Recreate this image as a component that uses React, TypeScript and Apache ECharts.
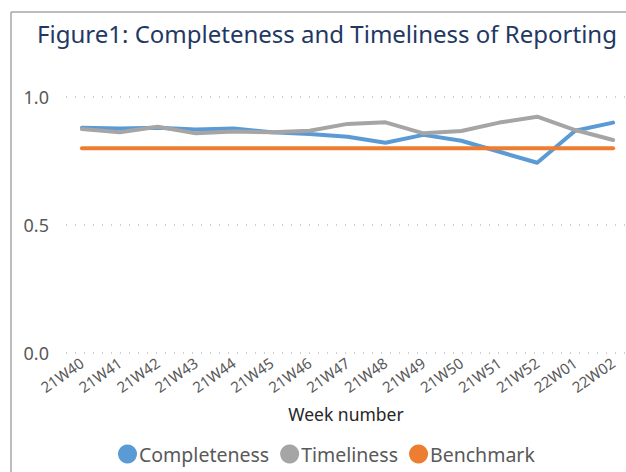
import React, { useEffect, useRef } from "react";
import * as echarts from "echarts";

const weeks = ["21W40","21W41","21W42","21W43","21W44","21W45","21W46","21W47","21W48","21W49","21W50","21W51","21W52","22W01","22W02"];
const completeness = [0.88,0.877,0.88,0.873,0.877,0.862,0.855,0.845,0.821,0.852,0.829,0.786,0.743,0.868,0.9];
const timeliness = [0.875,0.862,0.884,0.858,0.865,0.862,0.868,0.895,0.901,0.858,0.867,0.9,0.923,0.871,0.832];
const benchmark = [0.8,0.8,0.8,0.8,0.8,0.8,0.8,0.8,0.8,0.8,0.8,0.8,0.8,0.8,0.8];
const yTicks = [0, 0.5, 1.0];

const FONT = "'Noto Sans', sans-serif";

export default function App() {
  const ref = useRef<HTMLDivElement>(null);
  useEffect(() => {
    if (!ref.current) return;
    const chart = echarts.init(ref.current, null, { renderer: "svg" });
    const pairs = (arr: number[]) => arr.map((v, i) => [i, v]);
    chart.setOption({
      animation: false,
      backgroundColor: "#ffffff",
      title: {
        text: "Figure1: Completeness and Timeliness of Reporting",
        left: 322,
        top: 16,
        textAlign: "center",
        textStyle: { fontFamily: FONT, fontSize: 24, fontWeight: "normal", color: "#1F3864" },
      },
      legend: {
        top: 439,
        left: 113,
        orient: "horizontal",
        itemGap: 11,
        itemWidth: 19,
        itemHeight: 19,
        icon: "circle",
        textStyle: { fontFamily: FONT, fontSize: 19.5, color: "#595959", padding: [0, 0, 0, -3] },
        data: ["Completeness", "Timeliness", "Benchmark"],
      },
      grid: { left: 66, right: 0, top: 97, bottom: 119, containLabel: false },
      xAxis: {
        type: "value",
        min: -0.42,
        max: 14.34,
        name: "Week number",
        nameLocation: "middle",
        nameGap: 52,
        nameTextStyle: { fontFamily: FONT, fontSize: 17.5, color: "#262626" },
        axisLine: { show: false },
        axisTick: { show: false },
        splitLine: { show: false },
        axisLabel: {
          customValues: weeks.map((_, i) => i),
          formatter: (v: number) => weeks[Math.round(v)] ?? "",
          rotate: 35,
          fontFamily: FONT,
          fontSize: 15,
          color: "#595959",
          margin: 8,
        },
      },
      yAxis: {
        type: "value",
        min: 0,
        max: 1,
        interval: 0.5,
        axisLine: { show: false },
        axisTick: { show: false },
        axisLabel: {
          customValues: yTicks,
          formatter: (v: number) => v.toFixed(1),
          fontFamily: FONT,
          fontSize: 18,
          color: "#595959",
          margin: 17,
        },
        splitLine: { show: true, lineStyle: { color: "#BFBFBF", type: [1, 8], width: 1.5 } },
      },
      series: [
        {
          name: "Completeness",
          type: "line",
          data: pairs(completeness),
          showSymbol: false,
          symbol: "circle",
          itemStyle: { color: "#5B9BD5" },
          lineStyle: { color: "#5B9BD5", width: 4, cap: "round", join: "round" },
        },
        {
          name: "Timeliness",
          type: "line",
          data: pairs(timeliness),
          showSymbol: false,
          symbol: "circle",
          itemStyle: { color: "#A5A5A5" },
          lineStyle: { color: "#A5A5A5", width: 4, cap: "round", join: "round" },
        },
        {
          name: "Benchmark",
          type: "line",
          data: pairs(benchmark),
          showSymbol: false,
          symbol: "circle",
          itemStyle: { color: "#ED7D31" },
          lineStyle: { color: "#ED7D31", width: 4, cap: "round", join: "round" },
        },
      ],
      graphic: [
        { type: "line", shape: { x1: 11, y1: 12, x2: 11, y2: 472 }, style: { stroke: "#A6A6A6", lineWidth: 1.5 } },
        { type: "line", shape: { x1: 11, y1: 12, x2: 626, y2: 12 }, style: { stroke: "#A6A6A6", lineWidth: 1.5 } },
      ],
    });
    return () => chart.dispose();
  }, []);
  return <div ref={ref} style={{ width: 626, height: 472, position: "absolute", left: 0, top: 0 }} />;
}
